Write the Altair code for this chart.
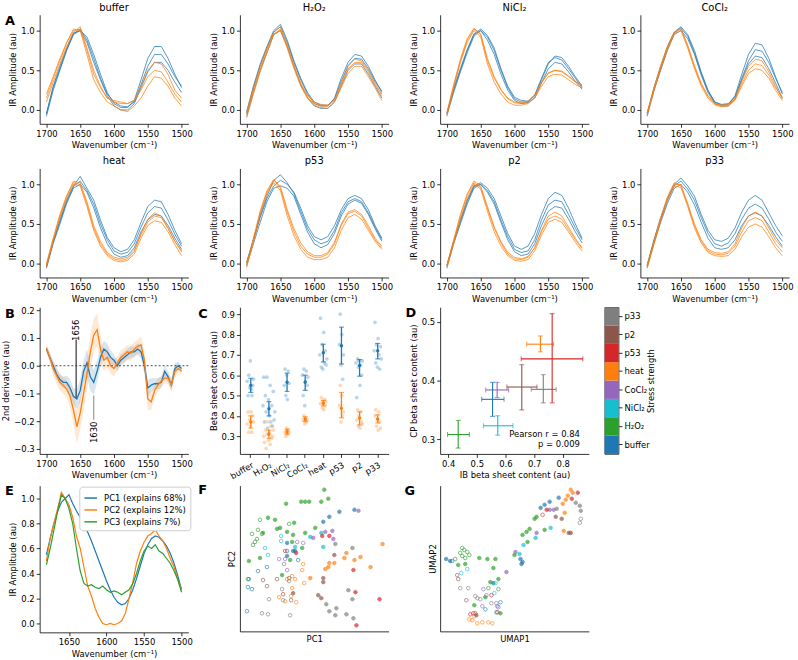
import altair as alt
import pandas as pd

FONT = "DejaVu Sans"
BLUE = "#1f77b4"
ORANGE = "#ff7f0e"
GREEN = "#2ca02c"
CONDS = ["buffer", "H₂O₂", "NiCl₂", "CoCl₂", "heat", "p53", "p2", "p33"]
COND_COLORS = ["#1f77b4", "#2ca02c", "#17becf", "#9467bd", "#ff7f0e", "#d62728", "#8c564b", "#7f7f7f"]

# ---------------- Panel A spectra (wavenumber grid 1700..1500 step 10) -------------
WN = list(range(1700, 1495, -10))

BUFFER_IB = [
    [-0.05, 0.3, 0.55, 0.78, 0.97, 1.0, 0.92, 0.7, 0.45, 0.22, 0.08, 0.03, 0.03, 0.12, 0.38, 0.65, 0.8, 0.8, 0.65, 0.45, 0.28],
    [-0.08, 0.25, 0.5, 0.75, 0.95, 1.0, 0.85, 0.6, 0.38, 0.18, 0.05, 0.0, 0.0, 0.08, 0.28, 0.48, 0.6, 0.6, 0.5, 0.35, 0.22],
    [-0.05, 0.28, 0.52, 0.76, 0.96, 1.02, 0.88, 0.65, 0.4, 0.2, 0.1, 0.05, 0.04, 0.1, 0.32, 0.55, 0.7, 0.7, 0.58, 0.42, 0.3],
]
BUFFER_CP = [
    [0.15, 0.4, 0.62, 0.85, 1.0, 1.02, 0.75, 0.45, 0.28, 0.15, 0.12, 0.1, 0.08, 0.12, 0.3, 0.5, 0.6, 0.58, 0.45, 0.25, 0.15],
    [0.2, 0.42, 0.65, 0.85, 1.02, 1.0, 0.7, 0.38, 0.22, 0.1, 0.05, 0.0, -0.02, 0.05, 0.15, 0.3, 0.42, 0.4, 0.3, 0.15, 0.05],
    [0.1, 0.35, 0.58, 0.8, 0.98, 1.05, 0.78, 0.5, 0.3, 0.15, 0.1, 0.08, 0.08, 0.12, 0.25, 0.42, 0.5, 0.48, 0.35, 0.2, 0.1],
]
H2O2_IB = [
    [-0.05, 0.28, 0.55, 0.78, 0.98, 1.05, 0.85, 0.6, 0.38, 0.2, 0.08, 0.05, 0.05, 0.15, 0.4, 0.6, 0.7, 0.68, 0.55, 0.38, 0.22],
    [-0.08, 0.22, 0.5, 0.72, 0.95, 1.0, 0.8, 0.55, 0.32, 0.15, 0.05, 0.02, 0.02, 0.1, 0.3, 0.5, 0.58, 0.58, 0.45, 0.3, 0.15],
    [-0.02, 0.3, 0.58, 0.8, 1.0, 1.08, 0.88, 0.62, 0.4, 0.22, 0.1, 0.06, 0.06, 0.14, 0.36, 0.56, 0.65, 0.64, 0.52, 0.36, 0.24],
]
H2O2_CP = [
    [-0.05, 0.25, 0.5, 0.75, 0.96, 1.0, 0.78, 0.52, 0.3, 0.15, 0.08, 0.05, 0.05, 0.12, 0.32, 0.52, 0.6, 0.6, 0.48, 0.32, 0.18],
    [-0.1, 0.2, 0.48, 0.72, 0.95, 1.02, 0.8, 0.55, 0.32, 0.16, 0.06, 0.03, 0.02, 0.1, 0.28, 0.46, 0.55, 0.55, 0.42, 0.28, 0.12],
    [-0.03, 0.28, 0.55, 0.78, 0.98, 1.05, 0.82, 0.56, 0.34, 0.18, 0.1, 0.07, 0.06, 0.13, 0.34, 0.55, 0.64, 0.62, 0.5, 0.34, 0.2],
]
NICL2_IB = [
    [-0.05, 0.25, 0.5, 0.75, 0.95, 1.0, 0.92, 0.75, 0.5, 0.28, 0.14, 0.1, 0.1, 0.18, 0.38, 0.58, 0.68, 0.66, 0.55, 0.42, 0.3],
    [-0.07, 0.22, 0.48, 0.72, 0.93, 1.0, 0.88, 0.7, 0.45, 0.25, 0.12, 0.08, 0.09, 0.15, 0.34, 0.52, 0.6, 0.58, 0.48, 0.36, 0.26],
    [-0.04, 0.27, 0.52, 0.76, 0.96, 1.02, 0.94, 0.78, 0.52, 0.3, 0.16, 0.12, 0.11, 0.19, 0.4, 0.6, 0.66, 0.63, 0.52, 0.4, 0.28],
]
NICL2_CP = [
    [-0.05, 0.3, 0.62, 0.88, 1.02, 0.95, 0.62, 0.4, 0.25, 0.14, 0.09, 0.08, 0.1, 0.18, 0.34, 0.46, 0.5, 0.48, 0.42, 0.35, 0.3],
    [-0.08, 0.28, 0.6, 0.85, 1.0, 0.92, 0.58, 0.35, 0.2, 0.1, 0.06, 0.06, 0.08, 0.15, 0.3, 0.42, 0.45, 0.44, 0.38, 0.32, 0.28],
    [-0.03, 0.32, 0.64, 0.9, 1.03, 0.96, 0.65, 0.42, 0.26, 0.15, 0.1, 0.09, 0.11, 0.19, 0.35, 0.47, 0.5, 0.49, 0.43, 0.36, 0.32],
]
COCL2_IB = [
    [-0.05, 0.28, 0.55, 0.8, 0.98, 1.05, 0.95, 0.75, 0.48, 0.25, 0.1, 0.06, 0.07, 0.18, 0.45, 0.7, 0.84, 0.82, 0.65, 0.42, 0.2],
    [-0.08, 0.24, 0.5, 0.75, 0.95, 1.0, 0.9, 0.7, 0.44, 0.22, 0.08, 0.05, 0.05, 0.14, 0.38, 0.58, 0.68, 0.66, 0.52, 0.34, 0.15],
    [-0.04, 0.26, 0.52, 0.78, 0.97, 1.03, 0.93, 0.72, 0.46, 0.24, 0.1, 0.07, 0.08, 0.16, 0.4, 0.62, 0.76, 0.74, 0.6, 0.4, 0.22],
]
COCL2_CP = [
    [-0.04, 0.28, 0.56, 0.8, 0.98, 1.02, 0.82, 0.56, 0.34, 0.18, 0.08, 0.05, 0.06, 0.14, 0.36, 0.55, 0.64, 0.62, 0.48, 0.3, 0.14],
    [-0.07, 0.24, 0.52, 0.76, 0.96, 1.0, 0.78, 0.52, 0.3, 0.15, 0.06, 0.04, 0.05, 0.12, 0.3, 0.46, 0.52, 0.5, 0.4, 0.25, 0.12],
    [-0.05, 0.26, 0.54, 0.78, 0.97, 1.04, 0.8, 0.54, 0.32, 0.17, 0.08, 0.06, 0.07, 0.14, 0.33, 0.5, 0.58, 0.56, 0.44, 0.28, 0.16],
]
HEAT_IB = [
    [-0.03, 0.28, 0.55, 0.8, 0.98, 1.1, 0.95, 0.8, 0.55, 0.33, 0.2, 0.15, 0.18, 0.3, 0.52, 0.72, 0.8, 0.78, 0.62, 0.42, 0.25],
    [-0.06, 0.25, 0.5, 0.76, 0.95, 1.0, 0.9, 0.7, 0.45, 0.25, 0.12, 0.08, 0.1, 0.2, 0.4, 0.55, 0.62, 0.6, 0.48, 0.32, 0.18],
    [-0.04, 0.27, 0.53, 0.78, 0.97, 1.04, 0.92, 0.75, 0.5, 0.3, 0.16, 0.12, 0.14, 0.25, 0.46, 0.64, 0.72, 0.7, 0.55, 0.37, 0.22],
]
HEAT_CP = [
    [-0.02, 0.3, 0.6, 0.85, 1.02, 1.0, 0.75, 0.45, 0.25, 0.12, 0.06, 0.04, 0.06, 0.15, 0.38, 0.56, 0.64, 0.6, 0.45, 0.28, 0.15],
    [-0.05, 0.28, 0.58, 0.82, 1.0, 0.98, 0.72, 0.42, 0.22, 0.1, 0.04, 0.02, 0.04, 0.12, 0.32, 0.48, 0.54, 0.52, 0.4, 0.24, 0.1],
    [0.0, 0.32, 0.62, 0.86, 1.04, 1.02, 0.78, 0.48, 0.28, 0.14, 0.08, 0.06, 0.08, 0.17, 0.36, 0.52, 0.6, 0.58, 0.44, 0.28, 0.16],
]
P53_IB = [
    [0.0, 0.3, 0.58, 0.82, 0.98, 1.05, 1.0, 0.9, 0.7, 0.48, 0.34, 0.3, 0.34, 0.48, 0.68, 0.82, 0.86, 0.82, 0.68, 0.48, 0.32],
    [-0.03, 0.25, 0.52, 0.78, 0.95, 0.98, 0.95, 0.85, 0.62, 0.4, 0.25, 0.2, 0.24, 0.38, 0.6, 0.75, 0.8, 0.76, 0.62, 0.44, 0.28],
    [0.02, 0.3, 0.6, 0.85, 1.05, 1.12, 1.02, 0.88, 0.66, 0.44, 0.3, 0.25, 0.28, 0.42, 0.64, 0.78, 0.82, 0.78, 0.64, 0.46, 0.3],
]
P53_CP = [
    [-0.02, 0.3, 0.65, 0.9, 1.05, 0.95, 0.65, 0.4, 0.22, 0.12, 0.08, 0.08, 0.12, 0.25, 0.48, 0.63, 0.66, 0.6, 0.45, 0.3, 0.2],
    [-0.05, 0.28, 0.62, 0.88, 1.02, 0.92, 0.6, 0.35, 0.18, 0.08, 0.05, 0.05, 0.08, 0.2, 0.42, 0.58, 0.62, 0.56, 0.42, 0.28, 0.18],
    [0.0, 0.32, 0.66, 0.92, 1.06, 0.97, 0.68, 0.44, 0.26, 0.15, 0.1, 0.1, 0.14, 0.27, 0.5, 0.65, 0.68, 0.62, 0.48, 0.32, 0.22],
]
P2_IB = [
    [-0.02, 0.28, 0.55, 0.8, 0.98, 1.02, 0.95, 0.82, 0.6, 0.38, 0.22, 0.18, 0.22, 0.38, 0.62, 0.82, 0.9, 0.86, 0.7, 0.5, 0.32],
    [-0.05, 0.25, 0.5, 0.75, 0.95, 1.0, 0.9, 0.75, 0.52, 0.3, 0.15, 0.1, 0.12, 0.25, 0.48, 0.66, 0.72, 0.7, 0.56, 0.4, 0.26],
    [-0.03, 0.27, 0.53, 0.78, 0.97, 1.0, 0.92, 0.78, 0.55, 0.34, 0.18, 0.14, 0.16, 0.3, 0.55, 0.74, 0.8, 0.78, 0.62, 0.45, 0.3],
]
P2_CP = [
    [-0.03, 0.28, 0.6, 0.86, 1.02, 0.96, 0.7, 0.45, 0.26, 0.12, 0.06, 0.05, 0.08, 0.2, 0.42, 0.6, 0.65, 0.6, 0.46, 0.32, 0.2],
    [-0.06, 0.25, 0.56, 0.82, 1.0, 0.94, 0.66, 0.4, 0.22, 0.1, 0.04, 0.03, 0.05, 0.16, 0.36, 0.52, 0.56, 0.52, 0.4, 0.27, 0.16],
    [-0.02, 0.3, 0.62, 0.88, 1.04, 0.98, 0.72, 0.46, 0.28, 0.14, 0.08, 0.06, 0.09, 0.2, 0.4, 0.56, 0.6, 0.56, 0.43, 0.3, 0.19],
]
P33_IB = [
    [-0.02, 0.3, 0.58, 0.82, 1.0, 1.08, 0.98, 0.85, 0.62, 0.42, 0.3, 0.28, 0.32, 0.45, 0.65, 0.8, 0.86, 0.8, 0.64, 0.48, 0.35],
    [-0.05, 0.25, 0.52, 0.76, 0.95, 1.0, 0.9, 0.74, 0.52, 0.32, 0.2, 0.18, 0.2, 0.3, 0.48, 0.6, 0.64, 0.6, 0.48, 0.34, 0.22],
    [-0.03, 0.28, 0.55, 0.8, 0.98, 1.04, 0.94, 0.8, 0.58, 0.38, 0.25, 0.22, 0.26, 0.38, 0.56, 0.7, 0.75, 0.7, 0.56, 0.4, 0.28],
]
P33_CP = [
    [-0.02, 0.28, 0.58, 0.84, 1.02, 0.98, 0.76, 0.5, 0.3, 0.18, 0.14, 0.13, 0.15, 0.25, 0.45, 0.6, 0.65, 0.6, 0.45, 0.3, 0.2],
    [-0.06, 0.24, 0.54, 0.8, 0.98, 0.96, 0.72, 0.45, 0.26, 0.14, 0.1, 0.09, 0.1, 0.18, 0.34, 0.46, 0.5, 0.46, 0.34, 0.2, 0.1],
    [-0.03, 0.26, 0.56, 0.82, 1.0, 1.0, 0.74, 0.48, 0.28, 0.16, 0.12, 0.11, 0.13, 0.22, 0.4, 0.54, 0.58, 0.54, 0.4, 0.25, 0.15],
]

# ---------------- Panel B: 2nd derivative (1700..1500 step 5) -------------
WN_B = list(range(1700, 1495, -5))
B_IB_MEAN = [0.06, 0.03, 0.0, -0.03, -0.05, -0.06, -0.06, -0.08, -0.11, -0.12,
             -0.09, -0.02, 0.01, -0.04, -0.06, -0.02, 0.03, 0.06, 0.05, 0.03,
             0.02, 0.0, 0.02, 0.03, 0.04, 0.05, 0.05, 0.06, 0.05, 0.0,
             -0.08, -0.07, -0.065, -0.065, -0.06, -0.02, -0.04, -0.07, -0.01, 0.0, -0.01]
B_CP_MEAN = [0.065, 0.03, -0.01, -0.035, -0.06, -0.07, -0.085, -0.11, -0.16, -0.22,
             -0.17, -0.1, -0.03, 0.05, 0.11, 0.13, 0.06, 0.02, 0.03, 0.0,
             -0.01, 0.01, 0.03, 0.04, 0.05, 0.045, 0.06, 0.07, 0.075, 0.02,
             -0.12, -0.13, -0.09, -0.07, -0.055, -0.045, -0.045, -0.07, -0.02, -0.01, -0.02]
B_IB_SD = [0.01, 0.015, 0.02, 0.02, 0.02, 0.02, 0.025, 0.03, 0.03, 0.035,
           0.04, 0.04, 0.05, 0.05, 0.045, 0.04, 0.03, 0.03, 0.03, 0.025,
           0.02, 0.02, 0.02, 0.02, 0.02, 0.02, 0.02, 0.02, 0.025, 0.03,
           0.03, 0.025, 0.02, 0.02, 0.02, 0.02, 0.02, 0.02, 0.02, 0.015, 0.01]
B_CP_SD = [0.015, 0.02, 0.025, 0.03, 0.03, 0.03, 0.03, 0.04, 0.05, 0.06,
           0.06, 0.06, 0.06, 0.06, 0.06, 0.06, 0.05, 0.04, 0.035, 0.03,
           0.03, 0.025, 0.025, 0.025, 0.025, 0.025, 0.025, 0.025, 0.03, 0.035,
           0.04, 0.03, 0.025, 0.025, 0.02, 0.02, 0.02, 0.025, 0.02, 0.015, 0.015]
B_MARK_WN = [1656, 1630]
B_MARK_TOP = [0.095, -0.107]
B_MARK_BOTTOM = [-0.115, -0.195]
B_MARK_TEXT_Y = [0.128, -0.24]

# ---------------- Panel C: beta sheet content -------------
C_IB_PTS = [
    [0.57, 0.5, 0.6, 0.54, 0.67, 0.53, 0.5, 0.55, 0.58],
    [0.45, 0.59, 0.37, 0.5, 0.42, 0.59, 0.34, 0.48, 0.4, 0.55, 0.37, 0.45, 0.35, 0.52, 0.38, 0.42],
    [0.55, 0.63, 0.5, 0.6, 0.48, 0.62, 0.56],
    [0.6, 0.5, 0.63, 0.45, 0.57, 0.62, 0.55, 0.59],
    [0.7, 0.88, 0.64, 0.75, 0.63, 0.81, 0.66, 0.72, 0.65, 0.68],
    [0.75, 0.9, 0.65, 0.8, 0.58, 0.7],
    [0.66, 0.49, 0.68, 0.64, 0.67, 0.55, 0.65, 0.6, 0.67],
    [0.72, 0.86, 0.66, 0.75, 0.64, 0.78, 0.7, 0.63, 0.74, 0.68],
]
C_CP_PTS = [
    [0.36, 0.42, 0.32, 0.38, 0.35, 0.42, 0.32, 0.4, 0.37],
    [0.3, 0.27, 0.33, 0.24, 0.31, 0.37, 0.28, 0.32, 0.26, 0.35, 0.29, 0.3, 0.33],
    [0.32, 0.3, 0.34, 0.31, 0.33, 0.32],
    [0.38, 0.4, 0.36, 0.39, 0.37, 0.38],
    [0.46, 0.49, 0.44, 0.47, 0.43, 0.48, 0.45, 0.47],
    [0.45, 0.55, 0.37, 0.5, 0.4, 0.42],
    [0.38, 0.43, 0.35, 0.4, 0.34, 0.42, 0.37, 0.36],
    [0.4, 0.43, 0.35, 0.38, 0.33, 0.42, 0.37, 0.34],
]
C_IB_MEAN = [0.55, 0.435, 0.565, 0.565, 0.71, 0.745, 0.648, 0.72]
C_IB_LO = [0.515, 0.4, 0.52, 0.525, 0.665, 0.655, 0.595, 0.68]
C_IB_HI = [0.585, 0.47, 0.61, 0.6, 0.752, 0.836, 0.677, 0.756]
C_CP_MEAN = [0.37, 0.31, 0.322, 0.383, 0.462, 0.437, 0.39, 0.385]
C_CP_LO = [0.34, 0.29, 0.31, 0.372, 0.449, 0.39, 0.355, 0.365]
C_CP_HI = [0.4, 0.33, 0.335, 0.395, 0.476, 0.515, 0.42, 0.405]

# ---------------- Panel D: IB vs CP -------------
D_IB_MEAN = [0.555, 0.435, 0.573, 0.571, 0.722, 0.763, 0.657, 0.732]
D_IB_LO = [0.517, 0.398, 0.523, 0.531, 0.674, 0.655, 0.605, 0.69]
D_IB_HI = [0.595, 0.474, 0.626, 0.611, 0.768, 0.87, 0.71, 0.777]
D_CP_MEAN = [0.368, 0.308, 0.323, 0.384, 0.462, 0.437, 0.389, 0.385]
D_CP_LO = [0.339, 0.285, 0.307, 0.371, 0.449, 0.362, 0.35, 0.362]
D_CP_HI = [0.397, 0.332, 0.34, 0.397, 0.476, 0.514, 0.427, 0.41]
D_STATS = ["Pearson r = 0.84", "p = 0.009"]

# ---------------- Panel E: PCA loadings (1680..1500 step 5) -------------
WN_E = list(range(1680, 1495, -5))
PC_NAMES = ["PC1 (explains 68%)", "PC2 (explains 12%)", "PC3 (explains 7%)"]
PC1 = [0.55, 0.68, 0.8, 0.9, 0.97, 1.0, 1.03, 0.96, 0.9, 0.85, 0.8, 0.73, 0.66,
       0.58, 0.5, 0.42, 0.34, 0.27, 0.21, 0.17, 0.15, 0.16, 0.2, 0.27, 0.36,
       0.46, 0.56, 0.63, 0.68, 0.7, 0.69, 0.66, 0.62, 0.56, 0.48, 0.38, 0.27]
PC2 = [0.5, 0.68, 0.8, 0.92, 1.05, 1.0, 0.95, 0.85, 0.7, 0.6, 0.45, 0.3, 0.22,
       0.12, 0.05, 0.0, -0.01, 0.0, -0.01, 0.0, 0.02, 0.08, 0.2, 0.33, 0.48,
       0.58, 0.65, 0.7, 0.72, 0.75, 0.7, 0.66, 0.6, 0.52, 0.45, 0.35, 0.27]
PC3 = [0.47, 0.6, 0.75, 0.9, 1.03, 1.0, 0.92, 0.8, 0.6, 0.42, 0.32, 0.3, 0.31,
       0.29, 0.28, 0.3, 0.27, 0.25, 0.26, 0.25, 0.23, 0.25, 0.27, 0.32, 0.4,
       0.5, 0.58, 0.62, 0.6, 0.63, 0.58, 0.56, 0.52, 0.48, 0.42, 0.35, 0.25]

# ---------------- Panel F: PCA scores (PC1, PC2), per condition -------------
F_IB = [
    [(99, 119), (114, 121), (83, 109), (89, 114), (47, 88), (53, 80), (55, 80), (47, 75)],
    [(46, 127), (61, 129), (65, 129), (69, 129), (81, 129), (84, 141), (88, 132), (28, 113), (35, 111),
     (54, 108), (23, 98), (37, 102), (40, 103), (47, 99), (53, 96), (65, 98), (75, 103), (9, 70),
     (20, 73), (42, 56), (52, 89), (62, 83), (50, 71)],
    [(55, 84), (70, 94), (81, 98), (83, 84)],
    [(85, 99), (92, 100), (73, 93), (93, 92), (118, 120)],
    [(142, 87), (106, 78), (104, 73), (114, 71), (120, 74), (89, 68), (94, 68), (88, 64), (85, 62), (130, 64), (70, 53)],
    [(82, 95), (89, 95), (56, 78), (113, 61), (115, 39), (139, 32), (116, 6)],
    [(94, 76), (83, 53), (83, 49), (78, 36), (81, 33), (53, 38)],
    [(95, 87), (112, 83), (108, 41), (112, 32), (86, 27), (96, 23), (89, 20), (95, 16), (106, 17), (113, 13)],
]
F_CP = [
    [(18, 60), (9, 52), (8, 44), (12, 42), (7, 20), (27, 64), (58, 71), (47, 80)],
    [(20, 111), (49, 107), (12, 97), (18, 101), (17, 92), (15, 89), (13, 86), (22, 97), (8, 52)],
    [(41, 95), (41, 90), (25, 83), (28, 76)],
    [(57, 89), (63, 88), (39, 72), (45, 72), (47, 61)],
    [(63, 67), (62, 61), (52, 55), (55, 52), (47, 52), (64, 48), (52, 43), (39, 34), (45, 30), (56, 29), (51, 35)],
    [(45, 80), (43, 37)],
    [(23, 51), (37, 52), (27, 45), (49, 53), (51, 31)],
    [(44, 67), (49, 50), (42, 42), (29, 32), (22, 18), (28, 17), (50, 16), (43, 31)],
]

# ---------------- Panel G: UMAP embedding, per condition -------------
G_IB = [
    [(109, 129), (118, 133), (104, 126), (100, 123), (6, 72), (10, 70), (80, 72), (82, 69), (81, 67), (53, 48)],
    [(94, 112), (96, 114), (82, 96), (86, 99), (89, 102), (87, 89), (104, 101), (74, 76), (39, 73), (47, 72),
     (55, 72), (18, 66), (25, 67), (53, 63), (58, 52), (50, 49), (45, 34), (60, 18), (34, 26)],
    [(95, 93), (83, 86), (79, 77), (110, 103)],
    [(109, 121), (113, 121), (75, 79), (96, 98), (66, 59)],
    [(130, 141), (132, 138), (127, 135), (125, 131), (122, 127), (124, 118), (123, 100)],
    [(137, 138), (131, 132), (106, 121)],
    [(115, 114), (121, 112), (128, 98), (130, 98), (36, 16)],
    [(135, 128), (139, 125), (140, 120), (116, 122)],
]
G_CP = [
    [(12, 70), (60, 29), (56, 19), (45, 22), (57, 25)],
    [(20, 78), (24, 81), (27, 79), (22, 75), (25, 73), (29, 76), (15, 72), (22, 83), (48, 43), (58, 42)],
    [(27, 62), (21, 58), (55, 48), (54, 38)],
    [(43, 42), (46, 36), (56, 28), (58, 24), (42, 25)],
    [(29, 12), (32, 11), (37, 8), (42, 9), (48, 9), (52, 8), (34, 15)],
    [(102, 116), (30, 17), (33, 18), (51, 36), (57, 19)],
    [(17, 56), (18, 52), (26, 31), (35, 18)],
    [(20, 43), (28, 43), (35, 35), (37, 33), (40, 32), (51, 28), (140, 112), (139, 108)],
]

# ======================= helpers =======================
KIND_SCALE = alt.Scale(domain=["ib", "cp"], range=[BLUE, ORANGE])
COND_SCALE = alt.Scale(domain=CONDS, range=COND_COLORS)
INDEP = dict(color="independent", fill="independent", stroke="independent", fillOpacity="independent")


def wn_x(dom=(1490, 1710), values=(1700, 1650, 1600, 1550, 1500)):
    return alt.X("wn:Q", scale=alt.Scale(domain=list(dom), reverse=True, nice=False, zero=False),
                 axis=alt.Axis(values=list(values), format="d", title="Wavenumber (cm⁻¹)"))


def letter(ch, dx, dy, opacity=1, baseline="middle"):
    return alt.Chart(pd.DataFrame({"t": [ch]})).mark_text(
        font=FONT, fontSize=13, fontWeight="bold", align="left", baseline=baseline, color="black",
        opacity=opacity
    ).encode(text="t:N", x=alt.value(dx), y=alt.value(dy))


def spec_panel(title, ib, cp, legend=False, let=None, spacer=False):
    rows = []
    for kind, curves in (("ib", ib), ("cp", cp)):
        for r, curve in enumerate(curves):
            for w, v in zip(WN, curve):
                rows.append({"wn": w, "val": v, "kind": kind, "rep": f"{kind}{r}"})
    df = pd.DataFrame(rows)
    y = alt.Y("val:Q", scale=alt.Scale(domain=[-0.175, 1.2], nice=False, zero=False),
              axis=alt.Axis(values=[0, 0.5, 1.0], format=".1f", title="IR Amplitude (au)"))
    base = alt.Chart(df)
    stroke = alt.Stroke("kind:N", scale=KIND_SCALE, legend=None)
    layers = []
    for k in ("ib", "cp"):
        layers.append(base.transform_filter(f"datum.kind == '{k}'").mark_line(strokeWidth=0.75).encode(
            x=wn_x(), y=y, stroke=stroke, detail="rep:N"))
    if legend:
        leg_df = pd.DataFrame({"series": ["ib", "cp"], "wn": [1600, 1600], "val": [0.5, 0.5]})
        layers.append(alt.Chart(leg_df).transform_filter("false").mark_point(filled=True, size=30).encode(
            x=wn_x(), y=y,
            fill=alt.Fill("series:N", scale=KIND_SCALE, legend=alt.Legend(
                title=None, orient="none", legendX=106, legendY=4, symbolType="circle", symbolSize=30,
                symbolStrokeWidth=0, labelFontSize=9, padding=5, rowPadding=2, strokeColor="#cccccc",
                fillColor="white", cornerRadius=3, labelOffset=8))))
    if let:
        layers.append(letter(*let))
    if spacer:
        # invisible element that reserves vertical room below the x-axis title
        layers.append(letter("A", 70, 140, opacity=0, baseline="bottom"))
    return alt.layer(*layers).properties(width=150, height=110, title=title)


# ======================= rows 1 & 2 =======================
row1 = alt.hconcat(
    spec_panel("buffer", BUFFER_IB, BUFFER_CP, legend=True, let=("A", -35, 6), spacer=True),
    spec_panel("H₂O₂", H2O2_IB, H2O2_CP),
    spec_panel("NiCl₂", NICL2_IB, NICL2_CP),
    spec_panel("CoCl₂", COCL2_IB, COCL2_CP),
    spacing=52, bounds="flush").resolve_scale(**INDEP)
row2 = alt.hconcat(
    spec_panel("heat", HEAT_IB, HEAT_CP),
    spec_panel("p53", P53_IB, P53_CP),
    spec_panel("p2", P2_IB, P2_CP),
    spec_panel("p33", P33_IB, P33_CP),
    spacing=52, bounds="flush").resolve_scale(**INDEP)

# ======================= panel B =======================
dfb = pd.DataFrame({
    "wn": WN_B + WN_B,
    "mean": B_IB_MEAN + B_CP_MEAN,
    "sd": B_IB_SD + B_CP_SD,
    "kind": ["ib"] * len(WN_B) + ["cp"] * len(WN_B),
})


def yb(field):
    return alt.Y(field, scale=alt.Scale(domain=[-0.318, 0.211], nice=False, zero=False),
                 axis=alt.Axis(values=[-0.3, -0.2, -0.1, 0.0, 0.1, 0.2], format=".1f", title="2nd derivative (au)"))


bbase = alt.Chart(dfb)
b_layers = []
for k in ("ib", "cp"):
    b_layers.append(bbase.transform_filter(f"datum.kind == '{k}'").transform_calculate(
        lo="datum.mean - datum.sd", hi="datum.mean + datum.sd").mark_area(opacity=0.18).encode(
        x=wn_x(), y=yb("lo:Q"), y2="hi:Q", fill=alt.Fill("kind:N", scale=KIND_SCALE, legend=None)))
b_zero = alt.Chart(pd.DataFrame({"z": [0.0]})).mark_rule(strokeDash=[2, 2], color="black", strokeWidth=0.7).encode(y=yb("z:Q"))
b_layers.append(b_zero)
for k in ("ib", "cp"):
    b_layers.append(bbase.transform_filter(f"datum.kind == '{k}'").mark_line(strokeWidth=1.3).encode(
        x=wn_x(), y=yb("mean:Q"), stroke=alt.Stroke("kind:N", scale=KIND_SCALE, legend=None)))
dfm = pd.DataFrame({"wn": B_MARK_WN, "top": B_MARK_TOP, "bottom": B_MARK_BOTTOM, "ty": B_MARK_TEXT_Y,
                    "t": [str(w) for w in B_MARK_WN], "c": ["#333333", "#999999"]})
b_layers.append(alt.Chart(dfm).mark_rule(strokeWidth=1.2).encode(
    x=wn_x(), y=yb("top:Q"), y2="bottom:Q", color=alt.Color("c:N", scale=None)))
b_layers.append(alt.Chart(dfm).mark_text(angle=270, fontSize=8.5, font=FONT, color="black",
                                         align="center", baseline="middle").encode(
    x=wn_x(), y=yb("ty:Q"), text="t:N"))
b_layers.append(letter("B", -35, 7))
panel_b = alt.layer(*b_layers).properties(width=150, height=148)

# ======================= panel C =======================
crow = []
for ci, cond in enumerate(CONDS):
    for kind, pts in (("ib", C_IB_PTS[ci]), ("cp", C_CP_PTS[ci])):
        off = (16 - len(pts)) // 2
        for j, v in enumerate(pts):
            crow.append({"cond": cond, "kind": kind, "val": v, "slot": j + off})
dfc = pd.DataFrame(crow)
dfc_stats = pd.DataFrame({
    "cond": CONDS + CONDS,
    "kind": ["ib"] * 8 + ["cp"] * 8,
    "mean": C_IB_MEAN + C_CP_MEAN,
    "lo": C_IB_LO + C_CP_LO,
    "hi": C_IB_HI + C_CP_HI,
})
CX_SCALE = alt.Scale(type="band", domain=CONDS, paddingInner=0.3, paddingOuter=0.25)


def xc():
    return alt.X("cond:N", scale=CX_SCALE, sort=CONDS,
                 axis=alt.Axis(title=None, labelAngle=330, labelAlign="right", labelBaseline="top", labelPadding=3))


def yc(field):
    return alt.Y(field, scale=alt.Scale(domain=[0.213, 0.934], nice=False, zero=False),
                 axis=alt.Axis(values=[0.3, 0.4, 0.5, 0.6, 0.7, 0.8, 0.9], format=".1f", title="Beta sheet content (au)"))


kcolor = alt.Color("kind:N", scale=KIND_SCALE, legend=None)
c_pts = alt.Chart(dfc).mark_circle(size=14, opacity=0.3).encode(
    x=xc(), xOffset=alt.XOffset("slot:O", scale=alt.Scale(domain=list(range(16)))), y=yc("val:Q"), color=kcolor)
c_rule = alt.Chart(dfc_stats).mark_rule(strokeWidth=1.3).encode(x=xc(), y=yc("lo:Q"), y2="hi:Q", color=kcolor)
c_cap_lo = alt.Chart(dfc_stats).mark_tick(size=5, thickness=1.2, orient="horizontal").encode(x=xc(), y=yc("lo:Q"), color=kcolor)
c_cap_hi = alt.Chart(dfc_stats).mark_tick(size=5, thickness=1.2, orient="horizontal").encode(x=xc(), y=yc("hi:Q"), color=kcolor)
c_mean = alt.Chart(dfc_stats).mark_circle(size=12, opacity=1).encode(x=xc(), y=yc("mean:Q"), color=kcolor)
panel_c = alt.layer(c_pts, c_rule, c_cap_lo, c_cap_hi, c_mean, letter("C", -42, 7)).properties(width=150, height=148)

# ======================= panel D =======================
dfd = pd.DataFrame({"cond": CONDS, "ibm": D_IB_MEAN, "iblo": D_IB_LO, "ibhi": D_IB_HI,
                    "cpm": D_CP_MEAN, "cplo": D_CP_LO, "cphi": D_CP_HI})


def xd(field):
    return alt.X(field, scale=alt.Scale(domain=[0.372, 0.891], nice=False, zero=False),
                 axis=alt.Axis(values=[0.4, 0.5, 0.6, 0.7, 0.8], format=".1f", title="IB beta sheet content (au)"))


def yd(field):
    return alt.Y(field, scale=alt.Scale(domain=[0.275, 0.525], nice=False, zero=False),
                 axis=alt.Axis(values=[0.3, 0.4, 0.5], format=".1f", title="CP beta sheet content (au)"))


ccolor = alt.Color("cond:N", scale=COND_SCALE, legend=None)
dbase = alt.Chart(dfd)
d_layers = [
    dbase.mark_rule(strokeWidth=1.1).encode(x=xd("iblo:Q"), x2="ibhi:Q", y=yd("cpm:Q"), color=ccolor),
    dbase.mark_rule(strokeWidth=1.1).encode(x=xd("ibm:Q"), y=yd("cplo:Q"), y2="cphi:Q", color=ccolor),
    dbase.mark_tick(size=5, thickness=1.1, orient="vertical").encode(x=xd("iblo:Q"), y=yd("cpm:Q"), color=ccolor),
    dbase.mark_tick(size=5, thickness=1.1, orient="vertical").encode(x=xd("ibhi:Q"), y=yd("cpm:Q"), color=ccolor),
    dbase.mark_tick(size=5, thickness=1.1, orient="horizontal").encode(x=xd("ibm:Q"), y=yd("cplo:Q"), color=ccolor),
    dbase.mark_tick(size=5, thickness=1.1, orient="horizontal").encode(x=xd("ibm:Q"), y=yd("cphi:Q"), color=ccolor),
]
for i, s in enumerate(D_STATS):
    d_layers.append(alt.Chart(pd.DataFrame({"t": [s]})).mark_text(
        font=FONT, fontSize=8.5, align="right", baseline="middle", color="black").encode(
        text="t:N", x=alt.value(141), y=alt.value(128 + 10 * i)))
d_layers.append(letter("D", -35, 6))
panel_d = alt.layer(*d_layers).properties(width=150, height=148)

colorbar = alt.Chart(pd.DataFrame({"cond": CONDS})).mark_rect().encode(
    y=alt.Y("cond:N", sort=CONDS[::-1], scale=alt.Scale(paddingInner=0, paddingOuter=0),
            axis=alt.Axis(orient="right", title="Stress strength", titleAngle=270, domain=False,
                          ticks=True, labelPadding=2, titlePadding=6)),
    fill=alt.Fill("cond:N", scale=COND_SCALE, legend=None),
).properties(width=14, height=148, view=alt.ViewBackground(stroke="black", strokeWidth=0.8))

row3 = alt.hconcat(panel_b, panel_c,
                   alt.hconcat(panel_d, colorbar, spacing=16, bounds="flush").resolve_scale(**INDEP),
                   spacing=52, bounds="flush").resolve_scale(**INDEP)

# ======================= panel E =======================
dfe = pd.DataFrame({
    "wn": WN_E * 3,
    "val": PC1 + PC2 + PC3,
    "pc": [PC_NAMES[0]] * len(WN_E) + [PC_NAMES[1]] * len(WN_E) + [PC_NAMES[2]] * len(WN_E),
})
panel_e = alt.layer(
    alt.Chart(dfe).mark_line(strokeWidth=1.2).encode(
        x=wn_x(dom=(1491, 1689), values=(1650, 1600, 1550, 1500)),
        y=alt.Y("val:Q", scale=alt.Scale(domain=[-0.071, 1.103], nice=False, zero=False),
                axis=alt.Axis(values=[0, 0.2, 0.4, 0.6, 0.8, 1.0], format=".1f", title="IR Amplitude (au)")),
        color=alt.Color("pc:N", scale=alt.Scale(domain=PC_NAMES, range=[BLUE, ORANGE, GREEN]),
                        legend=alt.Legend(title=None, orient="none", legendX=40, legendY=1,
                                          symbolType="stroke", symbolSize=160, symbolStrokeWidth=1.5,
                                          labelFontSize=8.5, padding=4, rowPadding=0, strokeColor="#cccccc",
                                          fillColor="white", cornerRadius=3, labelOffset=6)),
        detail="pc:N"),
    letter("E", -35, 5),
).properties(width=150, height=148)


# ======================= panels F & G =======================
def scatter_panel(ib_lists, cp_lists, xt, yt, let, legend):
    rows = []
    for ci, cond in enumerate(CONDS):
        for kind, lists in (("ib", ib_lists), ("cp", cp_lists)):
            for a, b in lists[ci]:
                rows.append({"cond": cond, "kind": kind, "a": a, "b": b})
    df = pd.DataFrame(rows)
    if legend:
        leg = alt.Legend(title=None, orient="none", legendX=4, legendY=1, symbolType="circle", symbolSize=20,
                         symbolFillColor="black", symbolStrokeColor="black", symbolStrokeWidth=0.9,
                         labelFontSize=9, padding=5, rowPadding=1, strokeColor="#cccccc",
                         fillColor="white", cornerRadius=3, labelOffset=8)
    else:
        leg = None
    pts = alt.Chart(df).mark_point(filled=True, size=13, strokeWidth=0.9).encode(
        x=alt.X("a:Q", scale=alt.Scale(domain=[0, 148], nice=False, zero=False),
                axis=alt.Axis(ticks=False, labels=False, title=xt, titlePadding=3)),
        y=alt.Y("b:Q", scale=alt.Scale(domain=[0, 145], nice=False, zero=False),
                axis=alt.Axis(ticks=False, labels=False, title=yt, titlePadding=3)),
        fill=alt.Fill("cond:N", scale=COND_SCALE, legend=None),
        stroke=alt.Stroke("cond:N", scale=COND_SCALE, legend=None),
        fillOpacity=alt.FillOpacity("kind:N", scale=alt.Scale(domain=["ib", "cp"], range=[1, 0]), legend=leg),
    )
    return alt.layer(pts, letter(*let)).properties(width=150, height=147)


panel_f = scatter_panel(F_IB, F_CP, "PC1", "PC2", ("F", -42, 4), True)
panel_g = scatter_panel(G_IB, G_CP, "UMAP1", "UMAP2", ("G", -36, 5), False)

row4 = alt.hconcat(panel_e, panel_f, panel_g, spacing=52, bounds="flush").resolve_scale(**INDEP)

chart = alt.vconcat(row1, row2, row3, row4, spacing=3).resolve_scale(**INDEP).properties(
    padding={"left": 1, "top": 0, "right": 5, "bottom": 2}
).configure(font=FONT).configure_view(stroke=None).configure_axis(
    domainColor="black", tickColor="black", labelColor="black", titleColor="black",
    labelFont=FONT, titleFont=FONT, labelFontSize=8.5, titleFontSize=8.5, titleFontWeight="normal",
    grid=False, tickSize=3.5, domainWidth=0.8, tickWidth=0.8, labelPadding=2, titlePadding=3,
).configure_title(font=FONT, fontSize=10, fontWeight="normal", color="black", offset=2, frame="group").configure_legend(
    labelFont=FONT, labelColor="black")

chart.save("out.html", embed_options={"renderer": "svg", "actions": False})
